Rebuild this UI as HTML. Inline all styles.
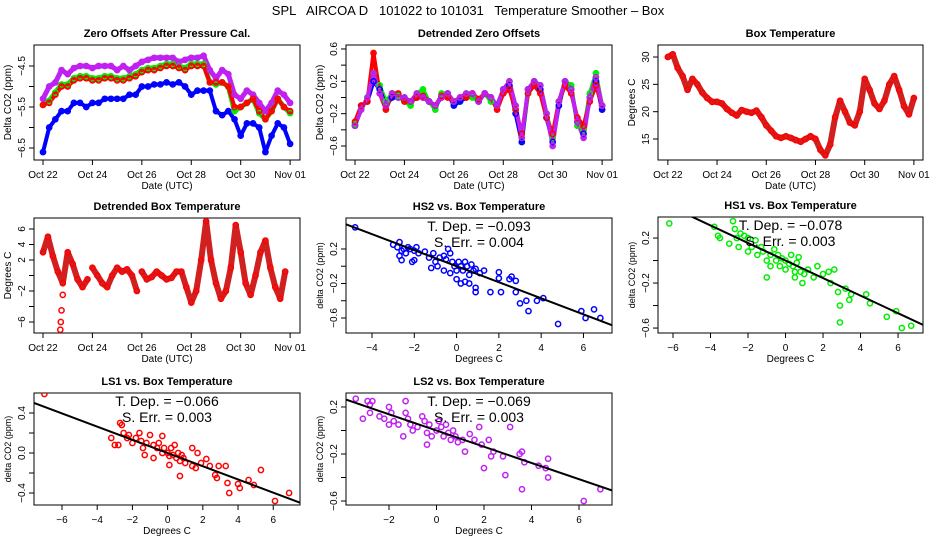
<!DOCTYPE html>
<html><head><meta charset="utf-8"><style>
body{margin:0;background:#fff;}
svg{display:block;font-family:"Liberation Sans",sans-serif;}
</style></head><body>
<svg id="chart" width="936" height="540" viewBox="0 0 936 540" xmlns="http://www.w3.org/2000/svg">
<text x="468" y="15" text-anchor="middle" font-size="13" style="white-space:pre">SPL   AIRCOA D   101022 to 101031   Temperature Smoother – Box</text>
</svg>
<script>
// ---- time-series data (day offset from Oct 22, step 0.25 day) ----
const tsDays = Array.from({length:41},(_,i)=>i*0.25);
const zeroHS2 = [-6.6,-6.0,-5.8,-5.6,-5.6,-5.4,-5.4,-5.5,-5.4,-5.4,-5.3,-5.3,-5.3,-5.3,-5.2,-5.2,-5.0,-5.0,-4.95,-4.95,-4.9,-4.95,-4.9,-5.0,-5.2,-5.1,-5.1,-5.1,-5.6,-5.7,-5.6,-5.8,-6.2,-5.9,-5.9,-6.0,-6.6,-6.2,-5.9,-6.0,-6.4];
const zeroHS1 = [-5.45,-5.35,-5.15,-4.95,-4.95,-4.8,-4.75,-4.75,-4.8,-4.8,-4.75,-4.75,-4.8,-4.8,-4.75,-4.7,-4.6,-4.55,-4.55,-4.5,-4.45,-4.45,-4.5,-4.55,-4.45,-4.45,-4.45,-4.9,-4.95,-4.9,-5.0,-5.6,-5.5,-5.4,-5.3,-5.65,-5.8,-5.6,-5.3,-5.5,-5.65];
const zeroLS1 = [-5.45,-5.4,-5.2,-5.0,-5.0,-4.85,-4.8,-4.8,-4.85,-4.85,-4.8,-4.8,-4.85,-4.85,-4.8,-4.75,-4.65,-4.6,-4.6,-4.55,-4.5,-4.5,-4.55,-4.6,-4.5,-4.5,-4.5,-4.9,-4.9,-4.9,-5.0,-5.5,-5.5,-5.4,-5.3,-5.6,-5.8,-5.6,-5.3,-5.5,-5.6];
const zeroLS2 = [-5.3,-5.0,-4.9,-4.6,-4.7,-4.55,-4.5,-4.5,-4.55,-4.5,-4.5,-4.5,-4.6,-4.5,-4.6,-4.5,-4.4,-4.35,-4.3,-4.3,-4.3,-4.3,-4.4,-4.35,-4.3,-4.3,-4.25,-4.6,-4.8,-4.6,-4.7,-5.2,-5.3,-5.1,-5.2,-5.4,-5.6,-5.4,-5.1,-5.2,-5.4];
const detHS2 = [-0.35,-0.1,-0.05,0.2,0.1,-0.1,0,0,0,-0.05,0,0,-0.05,-0.1,0,0.05,-0.1,-0.05,0,0.05,-0.05,0.05,0,-0.1,0.1,0.15,-0.2,-0.55,0.1,0.2,0.1,-0.25,-0.55,-0.1,0.2,0.1,-0.3,-0.45,0,0.2,-0.15];
const detHS1 = [-0.33,-0.15,0,0.3,0.15,-0.05,0.05,0.02,-0.05,-0.1,0.05,0.1,-0.05,-0.15,0.05,0.05,-0.05,-0.05,0.05,0,-0.05,0.05,-0.05,-0.1,0.1,0.2,-0.15,-0.55,0.05,0.2,0.15,-0.2,-0.5,-0.05,0.2,0.15,-0.35,-0.4,0.05,0.3,-0.1];
const detLS1 = [-0.3,-0.1,-0.05,0.55,0.05,-0.15,0.05,0.05,-0.05,-0.05,0,0.02,-0.05,-0.1,0.02,0,-0.05,0,0,0.05,-0.02,0.05,0,-0.15,0.05,0.1,-0.15,-0.45,0.05,0.15,0.05,-0.25,-0.45,-0.05,0.15,0.05,-0.25,-0.35,-0.05,0.15,-0.1];
const detLS2 = [-0.35,-0.15,0,0.3,0.05,-0.1,0.05,0,0,-0.05,0.05,0,-0.05,-0.1,0,0.05,-0.05,0,0.05,0.05,-0.05,0.05,0,-0.1,0.1,0.2,-0.1,-0.5,0.1,0.2,0.15,-0.2,-0.6,-0.05,0.2,0.1,-0.3,-0.5,0,0.25,-0.1];
// box temperature (step 0.2 day)
const tempDays = Array.from({length:51},(_,i)=>i*0.2);
const boxTemp = [30,30.5,28,26.5,24,26,25,23.5,22.5,21.8,21.8,21.5,20.5,19.8,19.3,20.3,20,19.8,20.2,19,17.5,16.5,15.5,15.2,15.5,15.2,14.8,14.5,15,15.5,15,13,12,14,19,22,20,18,17.5,20,26,24,21.5,20.5,22,25,26.5,24,21,19.5,22.5];
const detTemp = [3,5,2.5,0.5,-1,3,1.5,-0.5,-1.5,-0.5,null,1,0,-1,-1.5,0,1,0.5,0.8,0,-2,null,0.5,-0.5,-0.2,0.5,0,-0.5,-0.3,0.5,0.5,-1.5,-3.5,-2,2,7,2,-1,-3,-2,1,6.5,3,-1,-2.5,0,3,4.5,1,-1.5,-3,0.5];
const detTemp2Days=[0,0.2,0.4,0.6,0.8,1.0,1.2,1.4,1.6,1.8,null,2.0,2.2,2.4,2.6,2.8,3.0,3.2,3.4,3.6,3.8,null,4.0,4.2,4.4,4.6,4.8,5.0,5.2,5.4,5.6,5.8,6.0,6.2,6.4,6.6,6.8,7.0,7.2,7.4,7.6,7.8,8.0,8.2,8.4,8.6,8.8,9.0,9.2,9.4,9.6,9.8,10.0];
const dipDays=[0.7,0.72,0.75,0.8];
const dipTemp=[-7,-6,-4.5,-2.5];
// ---- scatter data ----
const hs2X=[-4.8,-3,-2.8,-2.7,-2.6,-2.5,-2.4,-2.3,-2.2,-2,-1.9,-1.8,-2.6,-2.1,-2,-2.7,-1.5,-1.3,-1.1,-1,-0.9,-1.2,-0.8,-0.6,-0.5,-0.4,-0.3,-0.2,-0.1,0,0.1,0.2,0.3,0.4,0.5,0.6,0.7,0.8,0.9,1.1,1.3,0,0.2,0.4,0.6,0.9,0.9,-0.3,-0.6,1.6,2,2,2.1,2.5,2.6,2.8,2.8,3,3.3,3.4,3.8,4.1,4.8,5.9,6.1,6.5,6.8];
const hs2Y=[0.45,0.25,0.22,0.28,0.18,0.2,0.15,0.22,0.2,0.18,0.22,0.15,0.07,0.05,0.07,0.12,0.17,0.1,0.15,0.05,0,-0.02,0.1,0.12,0.08,0.2,0.15,0.05,0,-0.05,0.05,0,-0.05,0.05,0,-0.1,0.02,-0.05,-0.03,-0.08,-0.05,-0.15,-0.2,-0.18,-0.2,-0.25,-0.3,-0.08,-0.05,-0.3,-0.07,-0.14,-0.3,-0.15,-0.12,-0.17,-0.3,-0.43,-0.4,-0.52,-0.4,-0.37,-0.67,-0.52,-0.6,-0.5,-0.6];
const hs1X=[-6.2,-3.8,-3.6,-3.5,-3,-2.8,-2.7,-2.6,-2.5,-2.4,-2.2,-2,-2,-1.8,-1.6,-1.5,-1.3,-1.2,-1,-0.8,-0.8,-0.6,-0.5,-0.4,-0.3,-0.2,0,0,0.2,0.3,0.4,0.5,0.6,0.7,0.8,1,1.2,0.9,0.5,-1,1.5,1.7,2,2.3,2.6,2.4,2.8,3.2,3.5,2.9,3.4,4.3,4.5,2.9,5.9,5.4,6.2,6.7];
const hs1Y=[0.33,0.3,0.22,0.2,0.15,0.35,0.28,0.2,0.12,0.24,0.22,0.2,0.08,0.12,0.18,0.05,0.12,0.08,0,0.05,-0.05,0.1,0,0.05,-0.05,0.02,0,-0.08,-0.03,0.05,-0.05,-0.1,-0.02,0.03,-0.1,-0.12,-0.08,-0.2,-0.15,-0.15,-0.15,-0.05,-0.12,-0.1,-0.08,-0.2,-0.28,-0.25,-0.3,-0.4,-0.35,-0.3,-0.38,-0.55,-0.45,-0.5,-0.6,-0.58];
const ls1X=[-7,-3.2,-3,-2.8,-2.7,-2.6,-2.5,-2.3,-2.2,-2,-1.8,-1.6,-1.5,-1.4,-1.2,-1,-0.8,-0.6,-0.5,-0.3,-0.2,-0.3,0,0.1,0.2,0.3,0.4,0.5,0.6,0.7,0.8,0.9,1,-0.8,-1.3,0.1,0.7,1.4,1.4,1.6,1.7,1.9,2.2,2.4,2.7,2.8,2.9,3.3,3.4,3.5,4,4.1,4.6,4.9,5.3,6.1,6.9];
const ls1Y=[0.59,0.15,0.08,0.08,0.3,0.28,0.2,0.15,0.18,0.1,0.15,0.2,0.12,0.05,0.1,0.18,0.08,0.05,0.1,0,0.05,0.17,0,-0.03,0.05,-0.02,0.08,-0.05,0,-0.08,-0.02,-0.05,-0.1,-0.05,-0.02,-0.12,-0.23,0.05,-0.13,-0.15,0,-0.1,-0.06,-0.13,-0.22,-0.25,-0.13,-0.13,-0.3,-0.4,-0.31,-0.35,-0.27,-0.32,-0.17,-0.48,-0.4];
const ls2X=[-3.4,-3.1,-2.9,-2.8,-2.7,-2.8,-2.4,-2.2,-2,-1.9,-2,-1.8,-1.6,-1.4,-1.3,-1.3,-1.2,-1.1,-1,-0.8,-0.6,-0.5,-0.4,-0.3,-0.4,-0.2,0,0.1,0.2,0.3,0.4,0.5,0.6,0.7,0.8,0.9,1.1,1.2,1.4,1.6,1.8,1.9,2.2,2,2.3,2.4,2.8,2.9,3.1,3.5,3.6,3.6,3.7,4.3,4.6,4.7,4.7,6.2,6.9];
const ls2Y=[0.27,0.1,0.25,0.22,0.25,0.15,0.12,0.1,0.2,0.15,0.05,0.08,0.05,-0.05,0.25,0.15,0.1,0.05,0,0.03,0.12,0.08,-0.02,0.05,-0.12,-0.05,0,0.08,0.03,-0.05,0.05,-0.02,-0.08,0,-0.05,-0.1,-0.08,-0.18,-0.03,-0.08,0.03,-0.12,-0.08,-0.32,-0.22,-0.18,-0.22,-0.38,0.03,-0.2,-0.18,-0.5,-0.27,-0.3,-0.32,-0.4,-0.24,-0.6,-0.5];
const slopes=[-0.093,-0.078,-0.066,-0.069];
const errs=["0.004","0.003","0.003","0.003"];
const dateLabels=["Oct 22","Oct 24","Oct 26","Oct 28","Oct 30","Nov 01"];
const dateTicks=[0,2,4,6,8,10];

const NS="http://www.w3.org/2000/svg";
const svg=document.getElementById('chart');
function mk(tag,attrs,parent){const e=document.createElementNS(NS,tag);for(const k in attrs)e.setAttribute(k,attrs[k]);(parent||svg).appendChild(e);return e;}
let clipN=0;
function panel(p){
  const g=mk('g',{});
  
  
  const sx=v=>p.x0+(v-p.xd[0])/(p.xd[1]-p.xd[0])*(p.x1-p.x0);
  const sy=v=>p.y1-(v-p.yd[0])/(p.yd[1]-p.yd[0])*(p.y1-p.y0);
  p.sx=sx;p.sy=sy;p.g=g;
  const id='clip'+(clipN++);
  const cp=mk('clipPath',{id:id},svg);
  mk('rect',{x:p.x0,y:p.y0,width:p.x1-p.x0,height:p.y1-p.y0},cp);
  p.clip=`url(#${id})`;
  const t=mk('text',{x:(p.x0+p.x1)/2,y:p.y0-8,'text-anchor':'middle','font-size':11,'font-weight':'bold'},g);
  t.textContent=p.title;
  
  
  p.xt.forEach((v,i)=>{
    const x=sx(v);
    mk('line',{x1:x,x2:x,y1:p.y1,y2:p.y1+5,stroke:'#000'},g);
    const lb=mk('text',{x:x,y:p.y1+18,'text-anchor':'middle','font-size':10},g);
    lb.textContent=p.xl[i];
    
    
  });
  mk('line',{x1:sx(p.xt[0]),x2:sx(p.xt[p.xt.length-1]),y1:p.y1,y2:p.y1,stroke:'#000'},g);
  p.yt.forEach((v,i)=>{
    const y=sy(v);
    mk('line',{x1:p.x0-5,x2:p.x0,y1:y,y2:y,stroke:'#000'},g);
    if(p.yl[i]!==''){
      const lb=mk('text',{x:p.x0-9,y:y,'text-anchor':'middle','font-size':10,transform:`rotate(-90 ${p.x0-9} ${y})`},g);
      lb.textContent=p.yl[i];
      
      
    }
  });
  mk('line',{x1:p.x0,x2:p.x0,y1:sy(p.yt[0]),y2:sy(p.yt[p.yt.length-1]),stroke:'#000'},g);
  mk('rect',{x:p.x0,y:p.y0,width:p.x1-p.x0,height:p.y1-p.y0,fill:'none',stroke:'#000'},g);
  const xa=mk('text',{x:(p.x0+p.x1)/2,y:p.y1+29,'text-anchor':'middle','font-size':10},g);
  xa.textContent=p.xlab;
  
  
  const yx=p.x0-23,yy=(p.y0+p.y1)/2;
  const ya=mk('text',{x:yx,y:yy,'text-anchor':'middle','font-size':p.ylabsize||10,transform:`rotate(-90 ${yx} ${yy})`},g);
  ya.textContent=p.ylab;
  
  
  return p;
}
function pts(p,xs,ys,color,name){
  const g=mk('g',{'clip-path':p.clip},p.g);
  
  
  xs.forEach((x,i)=>{
    if(x===null||ys[i]===null)return;
    mk('circle',{cx:p.sx(x),cy:p.sy(ys[i]),r:2.6,fill:'none',stroke:color,'stroke-width':1.5},g);
  });
}
function band(p,xs,ys,color,name,w){
  let d='',pen=false;
  xs.forEach((x,i)=>{
    if(x===null||ys[i]===null){pen=false;return;}
    d+=(pen?'L':'M')+p.sx(x).toFixed(1)+' '+p.sy(ys[i]).toFixed(1);pen=true;
  });
  const path=mk('path',{d:d,fill:'none',stroke:color,'stroke-width':w||5,'stroke-linejoin':'round','stroke-linecap':'round','clip-path':p.clip},p.g);
  
  
}
function fit(p,slope,err){
  const xa=p.xd[0],xb=p.xd[1];
  const ln=mk('line',{x1:p.sx(xa),y1:p.sy(slope*xa),x2:p.sx(xb),y2:p.sy(slope*xb),stroke:'#000','stroke-width':2,'clip-path':p.clip},p.g);
  
  
  const cx=(p.x0+p.x1)/2;
  const t1=mk('text',{x:cx,y:p.y0+13,'text-anchor':'middle','font-size':14},p.g);
  t1.textContent='T. Dep. =  \u2212'+Math.abs(slope).toFixed(3);
  
  
  const t2=mk('text',{x:cx,y:p.y0+29,'text-anchor':'middle','font-size':14},p.g);
  t2.textContent='S. Err. =  '+err;
  
  
}
const sc=[-6,-4,-2,0,2,4,6];
// Panel 1
const p1=panel({name:'zero-offsets-panel',title:'Zero Offsets After Pressure Cal.',x0:34,x1:300,y0:45,y1:160,xd:[-0.364,10.40],yd:[-6.793,-3.988],xt:dateTicks,xl:dateLabels,yt:[-6.5,-6,-5.5,-5,-4.5],yl:['\u22126.5','','\u22125.5','','\u22124.5'],xlab:'Date (UTC)',ylab:'Delta CO2 (ppm)'});
band(p1,tsDays,zeroHS2,'#0000ff','trace-hs2',4);
band(p1,tsDays,zeroLS2,'#c020f0','trace-ls2',5);
band(p1,tsDays,zeroHS1,'#00ee00','trace-hs1',5);
band(p1,tsDays,zeroLS1,'#ff0000','trace-ls1',4);
pts(p1,tsDays,zeroHS2,'#0000ff','series-hs2');
pts(p1,tsDays,zeroHS1,'#00ee00','series-hs1');
pts(p1,tsDays,zeroLS2,'#c020f0','series-ls2');
pts(p1,tsDays,zeroLS1,'#ff0000','series-ls1');
// Panel 2
const p2=panel({name:'detrended-zero-offsets-panel',title:'Detrended Zero Offsets',x0:346,x1:612,y0:45,y1:160,xd:[-0.364,10.40],yd:[-0.773,0.649],xt:dateTicks,xl:dateLabels,yt:[-0.6,-0.4,-0.2,0,0.2,0.4,0.6],yl:['\u22120.6','','\u22120.2','','0.2','','0.6'],xlab:'Date (UTC)',ylab:'Delta CO2 (ppm)'});
band(p2,tsDays,detHS1,'#00ee00','trace-hs1',4);
band(p2,tsDays,detHS2,'#0000ff','trace-hs2',4);
band(p2,tsDays,detLS1,'#ff0000','trace-ls1',4);
band(p2,tsDays,detLS2,'#c020f0','trace-ls2',4);
pts(p2,tsDays,detHS1,'#00ee00','series-hs1');
pts(p2,tsDays,detHS2,'#0000ff','series-hs2');
pts(p2,tsDays,detLS1,'#ff0000','series-ls1');
pts(p2,tsDays,detLS2,'#c020f0','series-ls2');
// Panel 3
const p3=panel({name:'box-temperature-panel',title:'Box Temperature',x0:658,x1:923,y0:45,y1:160,xd:[-0.4,10.37],yd:[11.16,32.2],xt:dateTicks,xl:dateLabels,yt:[15,20,25,30],yl:['15','20','25','30'],xlab:'Date (UTC)',ylab:'Degrees C'});
band(p3,tempDays,boxTemp,'#d02020','box-temp-trace',6);
pts(p3,tempDays,boxTemp,'#ff0000','box-temp-points');
// Panel 4
const p4=panel({name:'detrended-box-temperature-panel',title:'Detrended Box Temperature',x0:34,x1:300,y0:218,y1:333,xd:[-0.364,10.40],yd:[-7.42,7.42],xt:dateTicks,xl:dateLabels,yt:[-6,-4,-2,0,2,4,6],yl:['\u22126','','\u22122','','2','4','6'],xlab:'Date (UTC)',ylab:'Degrees C'});
band(p4,detTemp2Days,detTemp,'#d02020','det-temp-trace',6);
pts(p4,detTemp2Days,detTemp,'#ff0000','det-temp-points');
pts(p4,dipDays,dipTemp,'#ff0000','det-temp-dip');
// Scatter panels
const p5=panel({name:'hs2-scatter-panel',title:'HS2 vs. Box Temperature',x0:346,x1:612,y0:218,y1:333,xd:[-5.23,7.35],yd:[-0.774,0.559],xt:[-4,-2,0,2,4,6],xl:['\u22124','\u22122','0','2','4','6'],yt:[-0.6,-0.4,-0.2,0,0.2],yl:['\u22120.6','','\u22120.2','','0.2'],xlab:'Degrees C',ylab:'delta CO2 (ppm)',ylabsize:9});
pts(p5,hs2X,hs2Y,'#0000ff','hs2-points');fit(p5,slopes[0],errs[0]);
const p6=panel({name:'hs1-scatter-panel',title:'HS1 vs. Box Temperature',x0:658,x1:923,y0:217,y1:333,xd:[-6.8,7.33],yd:[-0.644,0.387],xt:sc,xl:['\u22126','\u22124','\u22122','0','2','4','6'],yt:[-0.6,-0.4,-0.2,0,0.2],yl:['\u22120.6','','\u22120.2','','0.2'],xlab:'Degrees C',ylab:'delta CO2 (ppm)',ylabsize:9});
pts(p6,hs1X,hs1Y,'#00ee00','hs1-points');fit(p6,slopes[1],errs[1]);
const p7=panel({name:'ls1-scatter-panel',title:'LS1 vs. Box Temperature',x0:34,x1:300,y0:393,y1:505,xd:[-7.59,7.52],yd:[-0.52,0.6],xt:sc,xl:['\u22126','\u22124','\u22122','0','2','4','6'],yt:[-0.4,-0.2,0,0.2,0.4],yl:['\u22120.4','','0.0','','0.4'],xlab:'Degrees C',ylab:'delta CO2 (ppm)',ylabsize:9});
pts(p7,ls1X,ls1Y,'#ff0000','ls1-points');fit(p7,slopes[2],errs[2]);
const p8=panel({name:'ls2-scatter-panel',title:'LS2 vs. Box Temperature',x0:346,x1:612,y0:393,y1:505,xd:[-3.81,7.39],yd:[-0.634,0.319],xt:[-2,0,2,4,6],xl:['\u22122','0','2','4','6'],yt:[-0.6,-0.4,-0.2,0,0.2],yl:['\u22120.6','','\u22120.2','','0.2'],xlab:'Degrees C',ylab:'delta CO2 (ppm)',ylabsize:9});
pts(p8,ls2X,ls2Y,'#c020f0','ls2-points');fit(p8,slopes[3],errs[3]);
</script>
</body></html>
